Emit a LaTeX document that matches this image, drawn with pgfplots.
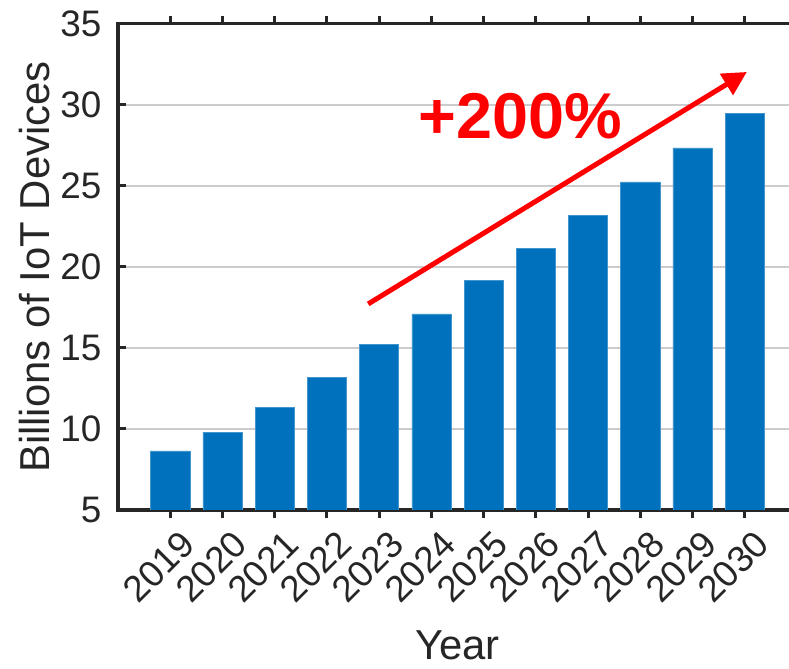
\documentclass[border=0pt]{standalone}
\usepackage{pgfplots}
\pgfplotsset{compat=1.18}
\usepackage{fontspec}
\setmainfont{Liberation Sans}
\usetikzlibrary{arrows.meta}
\definecolor{barblue}{RGB}{0,114,189}
\definecolor{axgray}{RGB}{38,38,38}
\definecolor{gridgray}{RGB}{204,204,204}
% grid behind the bars, ticks and axis lines in front of them
\pgfplotsset{
  layers/gridback/.define layer set={
    axis background,axis grid,pre main,main,axis ticks,axis lines,
    axis tick labels,axis descriptions,axis foreground}{},
}
\begin{document}
\begin{tikzpicture}
\begin{axis}[
  set layers=gridback,
  at={(0,0)}, anchor=south west,
  scale only axis, width=679bp, height=486bp,
  xmin=2018, xmax=2031, ymin=5, ymax=35,
  xtick={2019,...,2030}, ytick={5,10,...,35},
  /pgf/number format/1000 sep={},
  /pgf/number format/assume math mode=true,
  xtick pos=both, ytick pos=both,
  tick align=inside,
  major tick length=8bp,
  separate axis lines,
  axis line style={axgray, line width=3bp, line cap=rect},
  tick style={axgray, line width=3bp},
  ymajorgrids,
  grid style={gridgray, line width=2.6bp},
  ybar, bar width=0.75,
  ticklabel style={font=\fontsize{37}{42}\selectfont, text=axgray},
  y tick label style={xshift=-13bp},
  x tick label style={rotate=45, anchor=north east, yshift=-10bp, xshift=2bp},
  label style={font=\fontsize{42}{48}\selectfont, text=axgray},
  xlabel style={at={(axis description cs:0.5,-0.3086)}, anchor=base,
    inner sep=0pt, text depth=0pt},
  ylabel style={at={(axis description cs:-0.1222,0.5)}, anchor=center},
  xlabel={Year},
  ylabel={Billions of IoT Devices},
]
\addplot[fill=barblue, draw=barblue!75!white, line width=0.6bp] coordinates {
  (2019,8.65) (2020,9.80) (2021,11.35) (2022,13.20)
  (2023,15.20) (2024,17.10) (2025,19.15) (2026,21.15)
  (2027,23.20) (2028,25.25) (2029,27.35) (2030,29.50)
};
\draw[red, line width=5bp, -{Triangle[length=24bp,width=24bp]}]
  (axis cs:2022.79,17.72) -- (axis cs:2030.04,32.04);
\node[text=red, font=\bfseries\fontsize{65}{65}\selectfont]
  at (axis cs:2025.70,29.32) {+200\%};
\end{axis}
\pgfresetboundingbox
\path (-118bp,-159bp) rectangle (671bp,510bp);
\end{tikzpicture}
\end{document}
